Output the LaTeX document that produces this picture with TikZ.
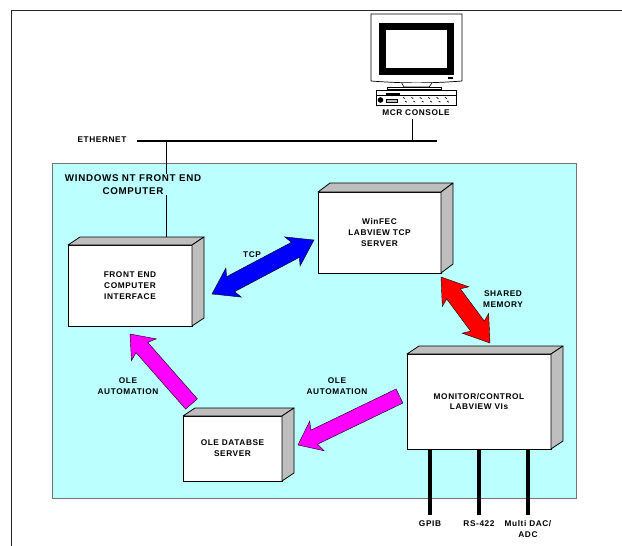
\documentclass[tikz,border=0pt]{standalone}
\usepackage{fontspec}
\setmainfont[LetterSpace=7]{Liberation Sans}
\usetikzlibrary{calc}
\definecolor{fecbg}{RGB}{187,255,255}
\definecolor{boxgray}{RGB}{190,190,190}
\definecolor{olemag}{RGB}{255,0,255}
\tikzset{
  lbl/.style={font=\bfseries\fontsize{8.3}{10.8}\selectfont,align=center,inner sep=0pt,text=black},
  boxfront/.style={draw=black,line width=0.8pt,fill=white,outer sep=0pt,lbl},
  boxside/.style={draw=black,line width=0.8pt,fill=boxgray,line join=round},
  blockarrow/.style={draw=black,line width=0.4pt,miter limit=20}
}
% point at #3 along (#1)->(#2) and #4 across
\newcommand{\arrowpt}[4]{($($(#1)!#3pt!(#2)$)!#4pt!90:(#2)$)}
\begin{document}
\begin{tikzpicture}[x=1pt,y=-1pt]
\useasboundingbox (0,0) rectangle (622,546);
% page frame
\draw[line width=0.9pt,black!85] (622,10) -- (11.5,10) -- (11.5,546);
% front end computer area
\node[draw=black!55,line width=1pt,fill=fecbg,minimum width=524pt,minimum height=335pt,inner sep=0pt,outer sep=0pt] (fecarea) at (314,330.5) {};
% console
\draw[line width=0.7pt,fill=white] (371,14) -- (462,14) -- (462,81) .. controls (430,83.5) and (403,83.5) .. (371,81) -- cycle;
\draw[line width=0.7pt,fill=black] (379,23) rectangle (453,74);
\draw[line width=0.5pt,fill=white] (385,29) rectangle (447,68);
\fill (448,77.2) rectangle (453,78.8);
\draw[line width=0.6pt,fill=white] (401.7,83) -- (404,87) -- (429,87) -- (432,83);
\draw[line width=0.6pt,fill=white] (387.7,87.3) rectangle (441.7,89.3);
\draw[line width=0.7pt,fill=white] (376.7,90) rectangle (456.7,105);
\draw[line width=0.5pt] (376.7,95) -- (456.7,95);
\fill (385.7,92.7) rectangle (400,95.7);
\fill (380.5,100) circle (2.8);
\draw[line width=0.5pt,fill=black!25] (386.7,99) rectangle (397.3,102.7);
\foreach \i in {0,...,5} {
  \draw[line width=0.7pt] (403+8.4*\i,97.4) -- ++(1.8,1.2);
  \draw[line width=0.7pt] (405+8.4*\i,101) -- ++(1.8,1.2);
}
\node[lbl] (console) at (416,112.7) {MCR CONSOLE};
\coordinate (eth_mcr) at (412,140.7);
\coordinate (eth_fec) at (166.5,140.7);
\coordinate (eth_w) at (137,140.7);
\coordinate (eth_e) at (437,140.7);
\node[lbl] (ethernet) at (102,139.5) {ETHERNET};
\draw[line width=0.7pt] (console.south -| eth_mcr) ++(0,3) -- (eth_mcr);
\draw[line width=0.7pt] (eth_fec) -- (eth_fec |- 0,237);
\draw[line width=2.2pt] (eth_w) -- (eth_e);
\node[lbl,font=\bfseries\fontsize{9.8}{13}\selectfont,fill=fecbg,inner sep=1pt] (fectitle) at (133,184.5) {WINDOWS NT FRONT END\\COMPUTER};
% boxes
\node[boxfront,minimum width=124pt,minimum height=81pt] (fec) at (130,285.5) {FRONT END\\COMPUTER\\INTERFACE};
\node[boxfront,minimum width=123pt,minimum height=81pt] (winfec) at (379.5,232.5) {WinFEC\\LABVIEW TCP\\SERVER};
\node[boxfront,minimum width=144pt,minimum height=95pt] (monitor) at (479,401.5) {MONITOR/CONTROL\\LABVIEW VIs};
\node[boxfront,minimum width=99pt,minimum height=65pt] (ole) at (232.5,448.5) {OLE DATABSE\\SERVER};
\foreach \n/\dx/\dy in {fec/12/8,winfec/12/9,monitor/12/8,ole/12/8} {
  \draw[boxside] (\n.north west) -- ++(\dx,-\dy) -- ($(\n.north east)+(\dx,-\dy)$) -- (\n.north east) -- cycle;
  \draw[boxside] (\n.north east) -- ++(\dx,-\dy) -- ($(\n.south east)+(\dx,-\dy)$) -- (\n.south east) -- cycle;
}
% block arrows
\coordinate (tcp_a) at (212,294);
\coordinate (tcp_b) at (314,240);
\coordinate (shm_a) at (441,277);
\coordinate (shm_b) at (490,343);
\coordinate (ole_a) at (130,334);
\coordinate (ole_b) at (191.5,404);
\coordinate (ole_c) at (298,445);
\coordinate (ole_d) at (399.5,396);
\foreach \a/\b/\c in {tcp_a/tcp_b/blue,shm_a/shm_b/red} {
  \path[blockarrow,fill=\c] (\a) -- \arrowpt{\a}{\b}{24.5}{16.5} -- \arrowpt{\a}{\b}{21}{8.5} -- \arrowpt{\b}{\a}{21}{-8.5} -- \arrowpt{\b}{\a}{24.5}{-16.5} -- (\b) -- \arrowpt{\b}{\a}{24.5}{16.5} -- \arrowpt{\b}{\a}{21}{8.5} -- \arrowpt{\a}{\b}{21}{-8.5} -- \arrowpt{\a}{\b}{24.5}{-16.5} -- cycle;
}
\foreach \a/\b in {ole_a/ole_b,ole_c/ole_d} {
  \path[blockarrow,fill=olemag] (\a) -- \arrowpt{\a}{\b}{21}{16.5} -- \arrowpt{\a}{\b}{18}{7.8} -- ($(\b)!7.8pt!-90:(\a)$) -- ($(\b)!7.8pt!90:(\a)$) -- \arrowpt{\a}{\b}{18}{-7.8} -- \arrowpt{\a}{\b}{21}{-16.5} -- cycle;
}
% arrow labels
\node[lbl] (tcp_lbl) at (252,254.5) {TCP};
\node[lbl] (shm_lbl) at (503,299.5) {SHARED\\MEMORY};
\node[lbl] (ole_lbl1) at (128,386.5) {OLE\\AUTOMATION};
\node[lbl] (ole_lbl2) at (337,386.5) {OLE\\AUTOMATION};
% signal lines
\node[lbl] (gpib) at (430,523.5) {GPIB};
\node[lbl] (rs422) at (479,523.5) {RS-422};
\node[lbl,anchor=north] (dac) at (528,520) {Multi DAC/\\ADC};
\foreach \s in {gpib,rs422,dac} {
  \draw[line width=3.2pt] (\s.north |- monitor.south) -- (\s.north |- 0,515);
}
\end{tikzpicture}
\end{document}
